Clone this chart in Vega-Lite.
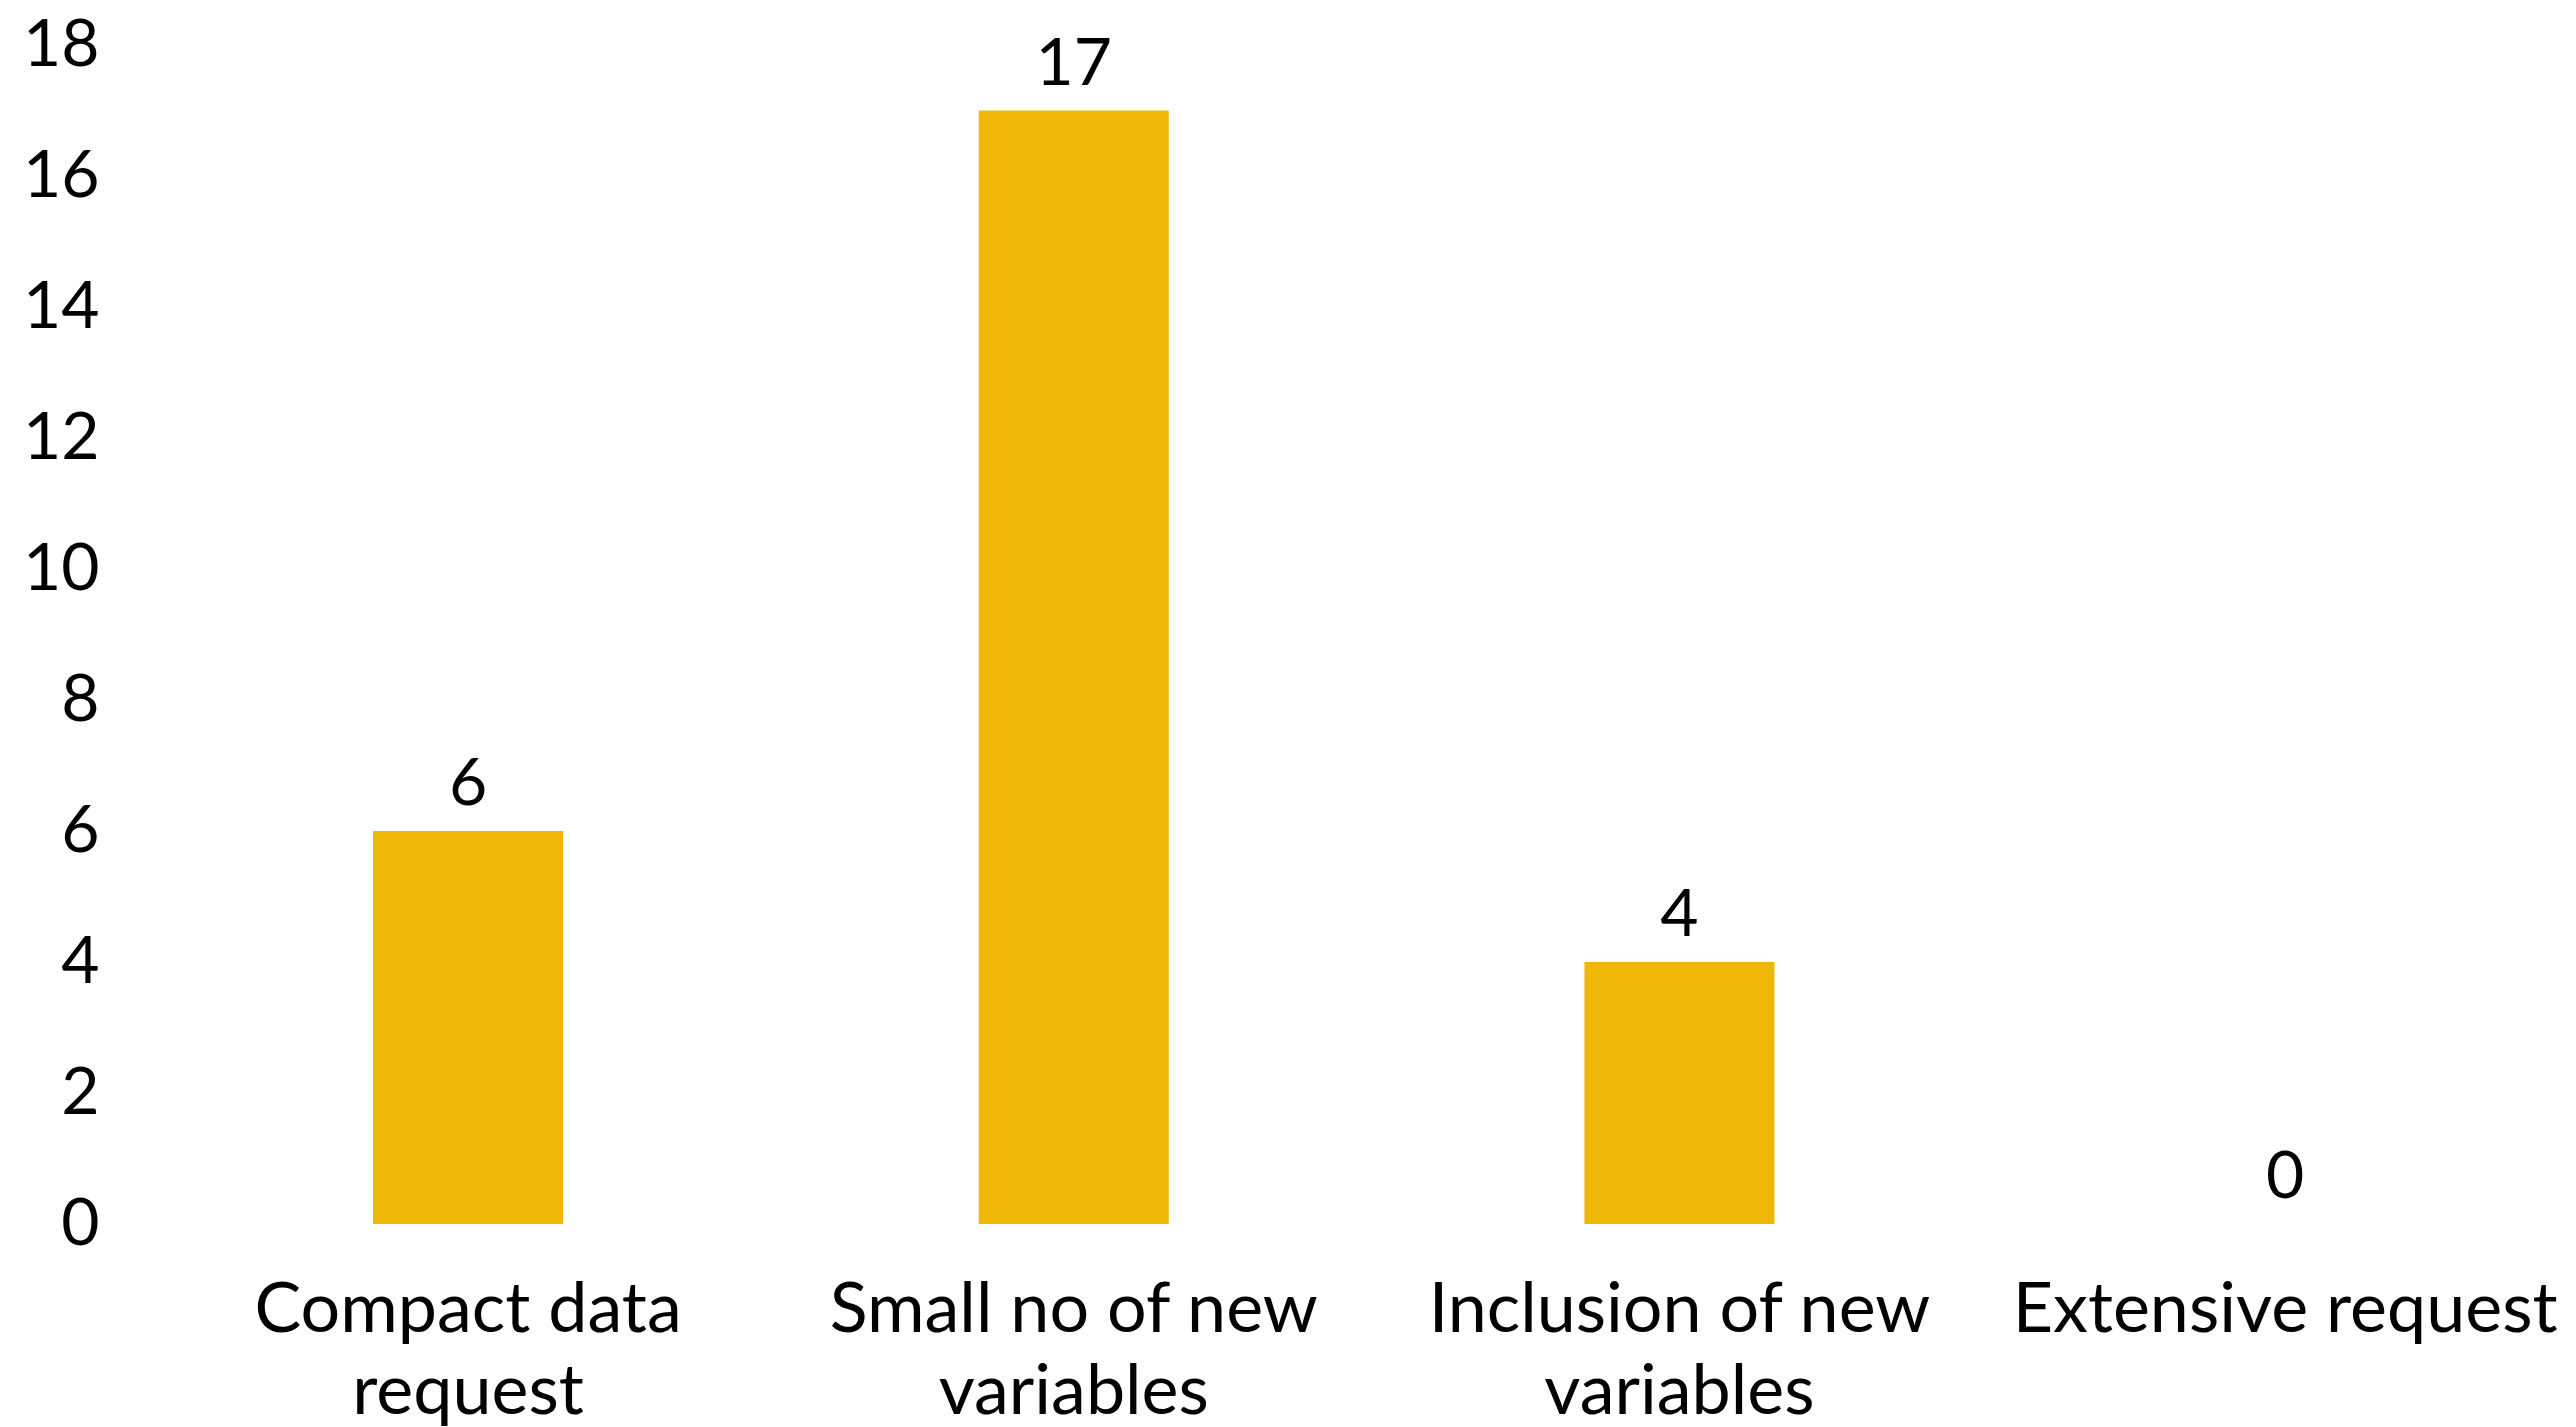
{
  "$schema": "https://vega.github.io/schema/vega-lite/v6.json",
  "autosize": "none",
  "padding": {"left": 110, "top": 45, "right": 10, "bottom": 203},
  "width": 2456,
  "height": 1179,
  "background": "white",
  "config": {"view": {"stroke": null}, "font": "Lato"},
  "data": {"values": [
    {"category": "Compact data request", "count": 6},
    {"category": "Small no of new variables", "count": 17},
    {"category": "Inclusion of new variables", "count": 4},
    {"category": "Extensive request", "count": 0}
  ]},
  "encoding": {
    "x": {
      "field": "category", "type": "nominal", "sort": null,
      "scale": {"paddingInner": 0.6863, "paddingOuter": 0.3706, "align": 0.586},
      "axis": {
        "title": null, "domain": false, "ticks": false, "labelAngle": 0,
        "labelFont": "Lato", "labelFontSize": 70, "labelColor": "#000000",
        "labelPadding": 52, "labelLineHeight": 82, "labelBaseline": "top",
        "labelLimit": 0,
        "labelExpr": "datum.value == 'Compact data request' ? ['Compact data', 'request'] : datum.value == 'Small no of new variables' ? ['Small no of new', 'variables'] : datum.value == 'Inclusion of new variables' ? ['Inclusion of new', 'variables'] : datum.value"
      }
    },
    "y": {
      "field": "count", "type": "quantitative",
      "scale": {"domain": [0, 18]},
      "axis": {
        "title": null, "domain": false, "ticks": false, "grid": false,
        "values": [0, 2, 4, 6, 8, 10, 12, 14, 16, 18],
        "labelFont": "Lato", "labelFontSize": 66, "labelColor": "#000000",
        "labelPadding": 11
      }
    }
  },
  "layer": [
    {"mark": {"type": "bar", "color": "#EFB708"}},
    {
      "mark": {"type": "text", "baseline": "alphabetic", "dy": -26, "fontSize": 66, "font": "Lato", "color": "#000000"},
      "encoding": {"text": {"field": "count", "type": "quantitative"}}
    }
  ]
}
